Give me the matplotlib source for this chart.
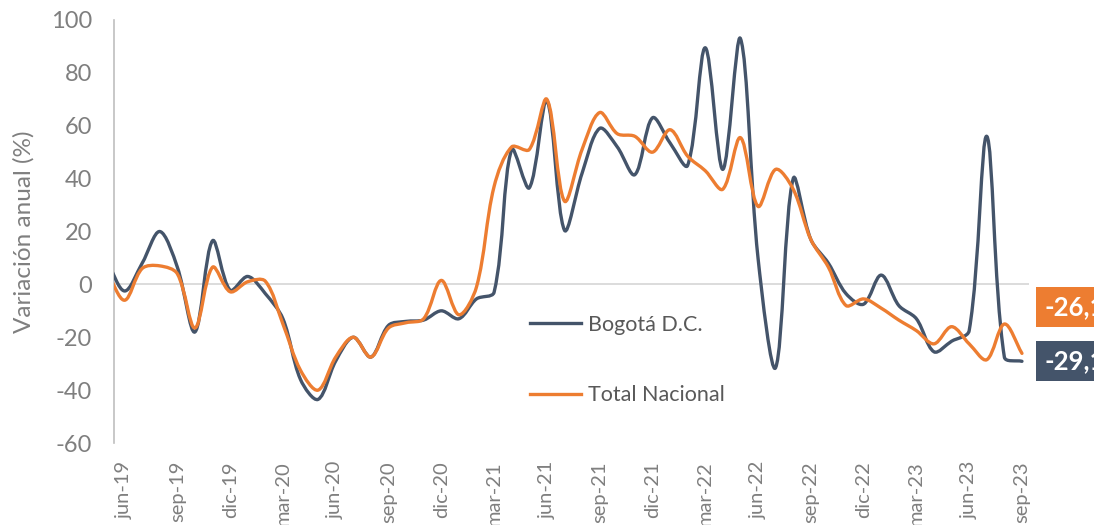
import matplotlib
matplotlib.use("Agg")
import matplotlib.pyplot as plt
import numpy as np
from matplotlib.path import Path
from matplotlib.patches import PathPatch
from matplotlib.lines import Line2D

plt.rcParams['font.family'] = ['Lato', 'DejaVu Sans']
plt.rcParams['axes.unicode_minus'] = False

# months from may-19 (clipped at the left edge) to sep-23
bogota = [9, -2.5, 8, 20, 6.5, -18, 16.5, -2.2, 3, -3.5, -13, -36, -43.5, -29,
          -20, -27.5, -15.5, -14, -13.5, -10, -13, -5.5, -3, 51, 36.5, 69.5,
          20.5, 42, 59, 52, 41.5, 63, 53.5, 45, 89.5, 43.5, 93, 10, -31.5, 40,
          17, 8, -3.5, -7.5, 3.5, -8, -13, -25.5, -21.5, -17.5, 56, -27.5, -29.1]
nacional = [5, -6, 6, 7, 4, -16.5, 6.5, -2.8, 1, 1.2, -15, -32.5, -40, -27.5,
            -20, -27.5, -16.5, -14.5, -13, 1.5, -11.5, -1, 37, 52, 51, 70,
            31.5, 51, 65, 57, 56, 50, 58.5, 48.5, 43, 36, 55.5, 29.5, 43.5, 36,
            17, 6.5, -8, -5.5, -9, -13.5, -17.5, -22.5, -16, -22.5, -28.5, -15,
            -26.1]
tick_labels = ['jun-19', 'sep-19', 'dic-19', 'mar-20', 'jun-20', 'sep-20',
               'dic-20', 'mar-21', 'jun-21', 'sep-21', 'dic-21', 'mar-22',
               'jun-22', 'sep-22', 'dic-22', 'mar-23', 'jun-23', 'sep-23']
series_names = ['Bogotá D.C.', 'Total Nacional']

DARK = '#44546A'
ORANGE = '#ED7D31'
GRAY = '#7F7F7F'


def smooth_path(ax, ys, x_start):
    # excel-like smoothed line: bezier through every point, tangents
    # weighted by segment length on screen
    xs = np.arange(len(ys), dtype=float) + x_start
    ys = np.asarray(ys, dtype=float)
    p = np.column_stack([xs, ys])
    scr = ax.transData.transform(p)
    d = np.hypot(*np.diff(scr, axis=0).T)
    n = len(p)
    tang = np.zeros_like(p)
    tang[1:-1] = p[2:] - p[:-2]
    tang[0] = 2 * (p[1] - p[0])
    tang[-1] = 2 * (p[-1] - p[-2])
    dd = np.concatenate([[d[0]], d, [d[-1]]])
    verts = [tuple(p[0])]
    codes = [Path.MOVETO]
    for k in range(n - 1):
        c1 = p[k] + tang[k] * d[k] / (3 * (dd[k] + dd[k + 1]))
        c2 = p[k + 1] - tang[k + 1] * d[k] / (3 * (dd[k + 1] + dd[k + 2]))
        verts += [tuple(c1), tuple(c2), tuple(p[k + 1])]
        codes += [Path.CURVE4] * 3
    return Path(verts, codes)


fig = plt.figure(figsize=(10.94, 5.25), dpi=100)
ax = fig.add_axes([114 / 1094, 1 - 443 / 525, (1029 - 114) / 1094, (443 - 20) / 525])
ax.set_xlim(-0.6, 51.4)
ax.set_ylim(-60, 100)

ax.axhline(0, color='#D9D9D9', lw=1.3, zorder=1)
for vals, col in [(bogota, DARK), (nacional, ORANGE)]:
    ax.add_patch(PathPatch(smooth_path(ax, vals, -1), fill=False, ec=col, lw=2.4,
                           capstyle='round', joinstyle='round', zorder=3))

ax.set_yticks(range(-60, 101, 20))
ax.set_xticks(range(0, 52, 3))
ax.set_xticklabels(tick_labels, rotation=90)
ax.tick_params(axis='x', length=0, pad=13, labelsize=14.5, labelcolor=GRAY)
ax.tick_params(axis='y', length=0, pad=16, labelsize=17, labelcolor=GRAY)
for s in ['top', 'right', 'bottom']:
    ax.spines[s].set_visible(False)
ax.spines['left'].set_color('#BFBFBF')
ax.spines['left'].set_linewidth(1.2)
ax.set_ylabel('Variación anual (%)', fontsize=17.5, color=GRAY)
ax.yaxis.set_label_coords(-0.087, 0.5)

handles = [Line2D([], [], color=DARK, lw=2.4), Line2D([], [], color=ORANGE, lw=2.4)]
leg = ax.legend(handles, series_names, loc='upper left', frameon=False,
                bbox_to_anchor=(519 / 1094, 1 - 304 / 525),
                bbox_transform=fig.transFigure, fontsize=15.5, borderpad=0,
                handlelength=2.4, handletextpad=0.3, labelspacing=2.35)
for t in leg.get_texts():
    t.set_color('#595959')

# end-value boxes at the right edge (cut by the figure edge, as in the source)
for val, col, yc in [(nacional[-1], ORANGE, 307), (bogota[-1], DARK, 361)]:
    fig.text(1044 / 1094, 1 - yc / 525, f"{val:.1f}".replace('.', ','),
             color='white', fontsize=18.5, fontweight='bold', ha='left', va='center',
             bbox=dict(boxstyle='square,pad=0.3', fc=col, ec='none'))

fig.savefig('out.png', dpi=100)
